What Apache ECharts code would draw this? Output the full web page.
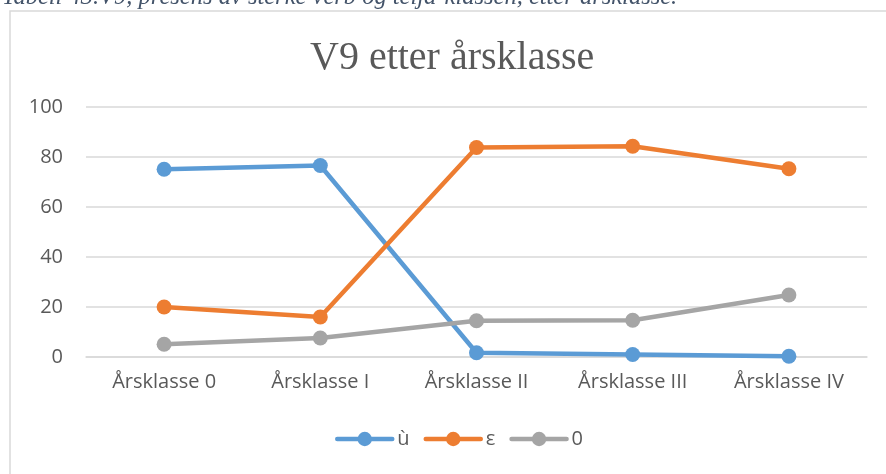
<!DOCTYPE html>
<html>
<head>
<meta charset="utf-8">
<script src="https://cdn.jsdelivr.net/npm/echarts@6/dist/echarts.min.js"></script>
<style>
  html, body { margin: 0; padding: 0; background: #fff; }
  #chart { width: 886px; height: 474px; }
</style>
</head>
<body>
<div id="chart"></div>
<script>
// values
const categories = ["Årsklasse 0", "Årsklasse I", "Årsklasse II", "Årsklasse III", "Årsklasse IV"];
const seriesNames = ["ù", "ε", "0"];
const uValues = [75.1, 76.6, 1.7, 1.0, 0.3];
const epsValues = [20.0, 16.0, 83.8, 84.3, 75.3];
const zeroValues = [5.1, 7.6, 14.5, 14.7, 24.8];
const yTicks = [0, 20, 40, 60, 80, 100];

const colors = ["#5B9BD5", "#ED7D31", "#A5A5A5"];
const labelColor = "#595959";

const chart = echarts.init(document.getElementById("chart"));

function lineSeries(name, data, color) {
  return {
    name: name,
    type: "line",
    data: data,
    symbol: "circle",
    symbolSize: 15,
    lineStyle: { color: color, width: 4.5 },
    itemStyle: { color: color },
    animation: false
  };
}

chart.setOption({
  animation: false,
  graphic: [
    {
      type: "rect",
      shape: { x: 10, y: 11, width: 900, height: 500 },
      style: { fill: "#fff", stroke: "#D9D9D9", lineWidth: 1.5 },
      z: -10
    },
    {
      type: "text",
      x: 2,
      y: 10,
      z: 10,
      style: {
        text: "Tabell 43.V9, presens av sterke verb og teljа-klassen, etter årsklasse.",
        font: "italic 24.5px 'Liberation Serif'",
        fill: "#44546A",
        textVerticalAlign: "bottom"
      }
    }
  ],
  title: {
    text: "V9 etter årsklasse",
    left: 305,
    top: 33,
    textStyle: {
      fontFamily: "Liberation Serif",
      fontWeight: "normal",
      fontSize: 40,
      color: labelColor
    }
  },
  legend: {
    data: seriesNames,
    bottom: 20,
    left: 330,
    itemWidth: 55,
    itemHeight: 18,
    itemGap: 14,
    lineStyle: { width: 4.5, cap: "round" },
    textStyle: { fontFamily: "Open Sans", fontSize: 20, color: labelColor }
  },
  grid: { left: 86, right: 19, top: 107, bottom: 117 },
  xAxis: {
    type: "category",
    data: categories,
    axisLine: { lineStyle: { color: "#D9D9D9", width: 1.5 } },
    axisTick: { show: false },
    axisLabel: { fontFamily: "Open Sans", fontSize: 20, color: labelColor, margin: 15 }
  },
  yAxis: {
    type: "value",
    min: yTicks[0],
    max: yTicks[yTicks.length - 1],
    interval: yTicks[1] - yTicks[0],
    axisLine: { show: false },
    axisTick: { show: false },
    splitLine: { lineStyle: { color: "#D9D9D9", width: 1.5 } },
    axisLabel: { fontFamily: "Open Sans", fontSize: 20, color: labelColor, margin: 23 }
  },
  series: [
    lineSeries(seriesNames[0], uValues, colors[0]),
    lineSeries(seriesNames[1], epsValues, colors[1]),
    lineSeries(seriesNames[2], zeroValues, colors[2])
  ]
});
</script>
</body>
</html>
